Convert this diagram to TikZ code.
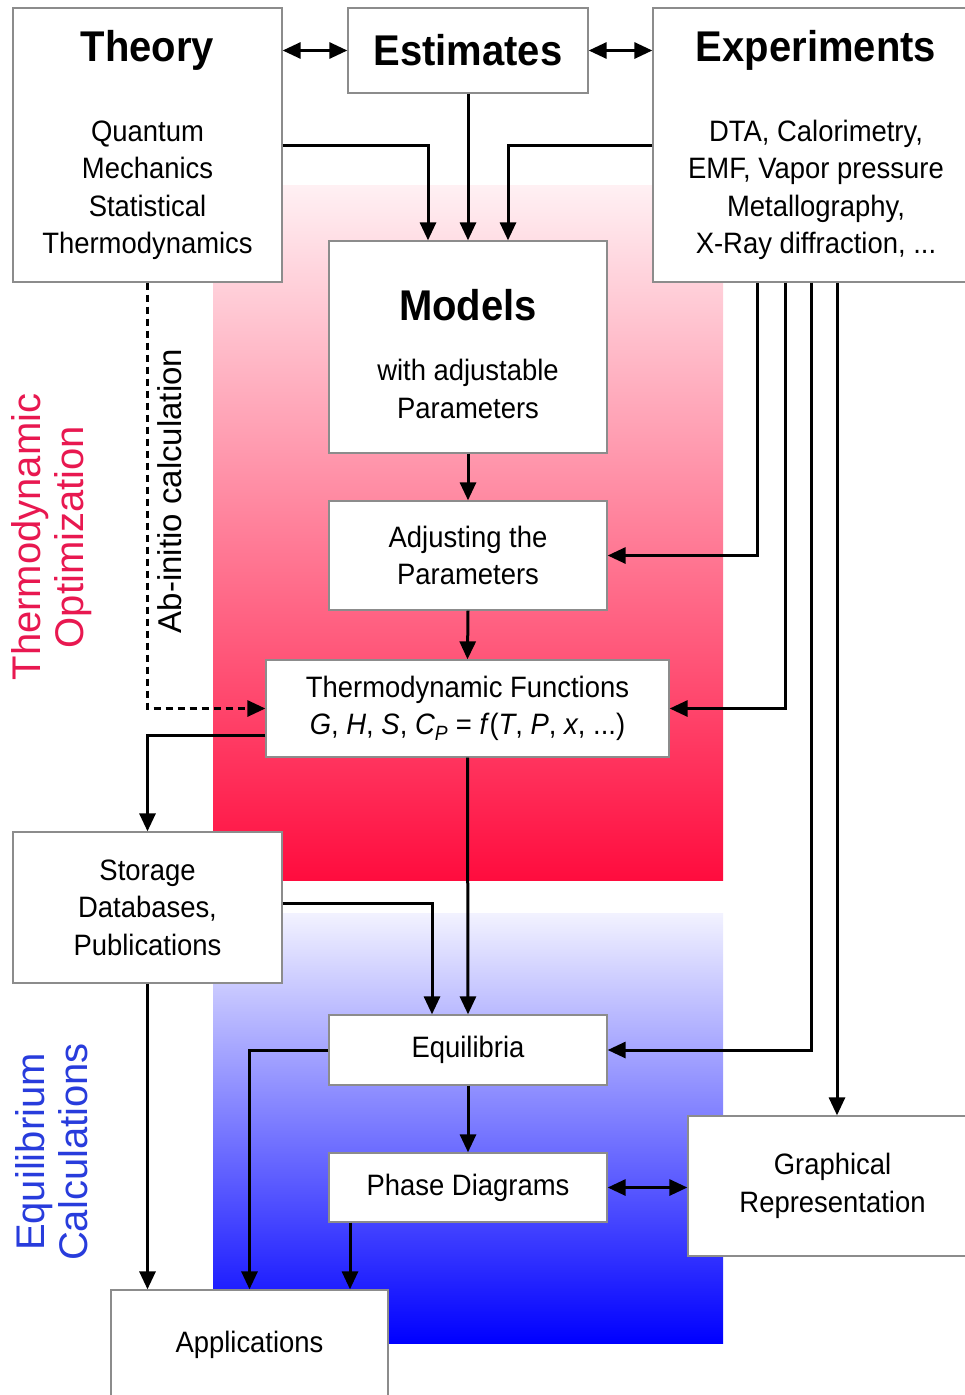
\documentclass[tikz,border=0pt]{standalone}
\usepackage{fontspec}
\setmainfont[FakeStretch=0.93]{Liberation Sans}
\newfontfamily\sidefont{Liberation Sans}
\usetikzlibrary{arrows.meta}

\definecolor{optred}{RGB}{255,12,62}
\definecolor{eqblue}{RGB}{0,0,255}
\definecolor{optlabel}{RGB}{232,24,80}
\definecolor{eqlabel}{RGB}{40,60,220}
\definecolor{boxgray}{RGB}{140,140,140}

\newcommand{\hd}[1]{{\fontsize{43}{46}\selectfont\bfseries #1}}

\begin{document}
\begin{tikzpicture}[x=1pt, y=-1pt,
    box/.style={draw=boxgray, line width=1.3pt, fill=white, align=center, inner sep=0pt,
      font=\fontsize{29.5}{37.5}\selectfont},
    arr/.style={line width=3pt, -{Triangle[length=18pt,width=16pt]}},
    biarr/.style={line width=3pt, {Triangle[length=18pt,width=16pt]}-{Triangle[length=18pt,width=16pt]}},
    side/.style={rotate=90, align=center, font=\sidefont\fontsize{40}{43}\selectfont}]
    \useasboundingbox (0,0) rectangle (965,1395);

    % 背景渐变区域
    \shade[top color=optred!6!white, bottom color=optred] (213,185) rectangle (723,880);
    \shade[top color=eqblue!5!white, bottom color=eqblue] (213,913) rectangle (723,1343);

    % 顶部三个方框
    \node[box, minimum width=269pt, minimum height=274pt] (theory) at (147.5,145)
        {\hd{Theory}\\[42.5pt] Quantum\\ Mechanics\\ Statistical\\ Thermodynamics};
    \node[box, minimum width=240pt, minimum height=85pt] (estimates) at (468,50.5) {\hd{Estimates}};
    \node[box, minimum width=326pt, minimum height=274pt] (experiments) at (816,145)
        {\hd{Experiments}\\[42.5pt] DTA, Calorimetry,\\ EMF, Vapor pressure\\ Metallography,\\ X-Ray diffraction, ...};

    % 优化部分
    \node[box, minimum width=278pt, minimum height=212pt] (models) at (468,347)
        {\hd{\rule{0pt}{45pt}Models}\\[22.5pt] with adjustable\\ Parameters};
    \node[box, minimum width=278pt, minimum height=109pt] (adjust) at (468,555.5) {Adjusting the\\ Parameters};
    \node[box, minimum width=403pt, minimum height=97pt] (thermo) at (467.5,708.5)
        {Thermodynamic Functions\\ \textit{G}, \textit{H}, \textit{S}, \textit{C}\textsubscript{\textit{P}} = \textit{f}(\textit{T}, \textit{P}, \textit{x}, ...)};

    % 计算部分
    \node[box, minimum width=269pt, minimum height=151pt] (storage) at (147.5,907.5) {Storage\\ Databases,\\ Publications};
    \node[box, minimum width=278pt, minimum height=70pt] (equil) at (468,1050) {Equilibria};
    \node[box, minimum width=278pt, minimum height=69pt] (phase) at (468,1187.5) {Phase Diagrams};
    \node[box, minimum width=289pt, minimum height=140pt] (graph) at (832.5,1186) {Graphical\\ Representation};
    \node[box, minimum width=277pt, minimum height=110pt] (apps) at (249.5,1345) {Applications};

    % 侧边标记
    \node[side, text=optlabel] (optlab) at (52,537) {Thermodynamic\\ Optimization};
    \node[side, text=eqlabel] (eqlab) at (52,1152) {Equilibrium\\ Calculations};
    \node[rotate=90, font=\sidefont\fontsize{33}{36}\selectfont] (abinitio) at (170,491) {Ab-initio calculation};

    % 顶部双向箭头
    \draw[biarr] (theory.east |- estimates.west) -- (estimates.west);
    \draw[biarr] (estimates.east) -- (estimates.east -| experiments.west);

    % 进入模型的箭头
    \draw[arr] (theory.east) -| ([xshift=-40pt]models.north);
    \draw[arr] (estimates.south) -- (models.north);
    \draw[arr] (experiments.west) -| ([xshift=40pt]models.north);
    \draw[arr] (models.south) -- (adjust.north);
    \draw[arr] (adjust.south) -- (thermo.north);

    % 实验数据的四条线
    \draw[arr] ([xshift=-59pt]experiments.south) |- (adjust.east);
    \draw[arr] ([xshift=-31pt]experiments.south) |- (thermo.east);
    \draw[arr] ([xshift=-5pt]experiments.south) |- (equil.east);
    \draw[arr] ([xshift=21pt]experiments.south) -- ([xshift=21pt]experiments.south |- graph.north);

    % 第一性原理 (虚线)
    \draw[arr, dash pattern=on 7pt off 5pt] (theory.south) |- (thermo.west);

    % 热力学函数向下
    \draw[arr] ([yshift=-26.5pt]thermo.west) -| (storage.north);
    \draw[arr] (thermo.south) -- (equil.north);
    \draw[arr] ([yshift=4.5pt]storage.east) -| ([xshift=-36pt]equil.north);
    \draw[arr] (storage.south) -- (storage.south |- apps.north);
    \draw[arr] (equil.west) -| (apps.north);
    \draw[arr] (equil.south) -- (phase.north);
    \draw[arr] ([xshift=-118pt]phase.south) -- ([xshift=-118pt]phase.south |- apps.north);
    \draw[biarr] (phase.east) -- (phase.east -| graph.west);

\end{tikzpicture}
\end{document}
